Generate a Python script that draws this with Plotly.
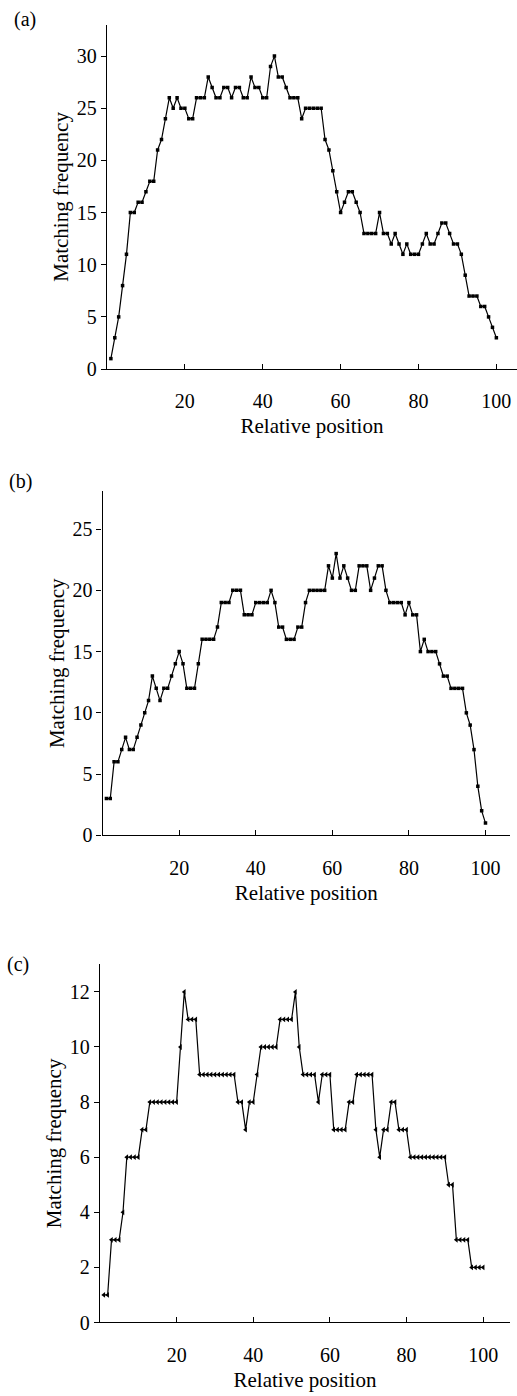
import plotly.graph_objects as go

# Relative positions along the sequence (shared by all three panels)
positions = list(range(1, 101))

# Panel (a): matching frequency per relative position
freq_a = [1, 3, 5, 8, 11, 15, 15, 16, 16, 17,
          18, 18, 21, 22, 24, 26, 25, 26, 25, 25,
          24, 24, 26, 26, 26, 28, 27, 26, 26, 27,
          27, 26, 27, 27, 26, 26, 28, 27, 27, 26,
          26, 29, 30, 28, 28, 27, 26, 26, 26, 24,
          25, 25, 25, 25, 25, 22, 21, 19, 17, 15,
          16, 17, 17, 16, 15, 13, 13, 13, 13, 15,
          13, 13, 12, 13, 12, 11, 12, 11, 11, 11,
          12, 13, 12, 12, 13, 14, 14, 13, 12, 12,
          11, 9, 7, 7, 7, 6, 6, 5, 4, 3]

# Panel (b)
freq_b = [3, 3, 6, 6, 7, 8, 7, 7, 8, 9,
          10, 11, 13, 12, 11, 12, 12, 13, 14, 15,
          14, 12, 12, 12, 14, 16, 16, 16, 16, 17,
          19, 19, 19, 20, 20, 20, 18, 18, 18, 19,
          19, 19, 19, 20, 19, 17, 17, 16, 16, 16,
          17, 17, 19, 20, 20, 20, 20, 20, 22, 21,
          23, 21, 22, 21, 20, 20, 22, 22, 22, 20,
          21, 22, 22, 20, 19, 19, 19, 19, 18, 19,
          18, 18, 15, 16, 15, 15, 15, 14, 13, 13,
          12, 12, 12, 12, 10, 9, 7, 4, 2, 1]

# Panel (c)
freq_c = [1, 1, 3, 3, 3, 4, 6, 6, 6, 6,
          7, 7, 8, 8, 8, 8, 8, 8, 8, 8,
          10, 12, 11, 11, 11, 9, 9, 9, 9, 9,
          9, 9, 9, 9, 9, 8, 8, 7, 8, 8,
          9, 10, 10, 10, 10, 10, 11, 11, 11, 11,
          12, 10, 9, 9, 9, 9, 8, 9, 9, 9,
          7, 7, 7, 7, 8, 8, 9, 9, 9, 9,
          9, 7, 6, 7, 7, 8, 8, 7, 7, 7,
          6, 6, 6, 6, 6, 6, 6, 6, 6, 6,
          5, 5, 3, 3, 3, 3, 2, 2, 2, 2]

x_ticks = [20, 40, 60, 80, 100]
y_ticks_a = [0, 5, 10, 15, 20, 25, 30]
y_ticks_b = [0, 5, 10, 15, 20, 25]
y_ticks_c = [0, 2, 4, 6, 8, 10, 12]

W, H = 517, 1396
FONT = "Liberation Serif"

def px_x(a, b):
    return [a / W, b / W]

def px_y(top, bottom):
    return [1 - bottom / H, 1 - top / H]

fig = go.Figure()

line_style = dict(color="black", width=1.2)
fig.add_trace(go.Scatter(x=positions, y=freq_a, mode="lines+markers",
                         line=line_style,
                         marker=dict(symbol="square", size=3.5, color="black"),
                         xaxis="x", yaxis="y", showlegend=False))
fig.add_trace(go.Scatter(x=positions, y=freq_b, mode="lines+markers",
                         line=line_style,
                         marker=dict(symbol="square", size=3.5, color="black"),
                         xaxis="x2", yaxis="y2", showlegend=False))
fig.add_trace(go.Scatter(x=positions, y=freq_c, mode="lines+markers",
                         line=line_style,
                         marker=dict(symbol="triangle-left", size=5, color="black"),
                         xaxis="x3", yaxis="y3", showlegend=False))

def xaxis(domain, rng, anchor):
    return dict(domain=domain, range=rng, anchor=anchor,
                showline=True, linecolor="black", linewidth=1.3,
                ticks="inside", ticklen=5, tickwidth=1.3, tickcolor="black",
                tickvals=x_ticks, showgrid=False, zeroline=False,
                ticklabelstandoff=14,
                tickfont=dict(family=FONT, size=20, color="black"),
                title=dict(text="Relative position", standoff=7,
                           font=dict(family=FONT, size=21, color="black")))

def yaxis(domain, rng, anchor, ticks):
    return dict(domain=domain, range=rng, anchor=anchor,
                showline=True, linecolor="black", linewidth=1.3,
                ticks="outside", ticklen=5, tickwidth=1.3, tickcolor="black",
                tickvals=ticks, showgrid=False, zeroline=False,
                tickfont=dict(family=FONT, size=20, color="black"),
                title=dict(text="Matching frequency", standoff=2,
                           font=dict(family=FONT, size=21, color="black")))

fig.update_layout(
    width=W, height=H,
    margin=dict(l=0, r=0, t=0, b=0),
    paper_bgcolor="white", plot_bgcolor="white",
    font=dict(family=FONT, color="black"),
    xaxis=xaxis(px_x(107, 517), [0, 105.3], "y"),
    yaxis=yaxis(px_y(25, 372), [0, 33], "x", y_ticks_a),
    xaxis2=xaxis(px_x(102.6, 510), [0, 106.4], "y2"),
    yaxis2=yaxis(px_y(495, 842), [0, 28.1], "x2", y_ticks_b),
    xaxis3=xaxis(px_x(100, 510), [0, 107], "y3"),
    yaxis3=yaxis(px_y(972, 1333), [0, 13], "x3", y_ticks_c),
)

for label, ypx, xpx in [("(a)", 20, 25), ("(b)", 485, 20), ("(c)", 972, 18)]:
    fig.add_annotation(text=label, x=xpx / W, y=1 - ypx / H,
                       xref="paper", yref="paper", showarrow=False,
                       xanchor="center", yanchor="middle",
                       font=dict(family=FONT, size=20, color="black"))

fig.write_html("out.html")
